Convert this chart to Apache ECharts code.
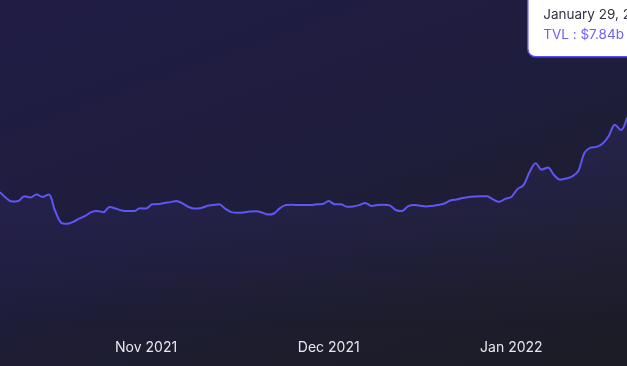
<!DOCTYPE html>
<html>
<head>
<meta charset="utf-8">
<script src="https://cdn.jsdelivr.net/npm/echarts@6/dist/echarts.min.js"></script>
<style>
html,body{margin:0;padding:0;overflow:hidden;background:#1e1c36;}
#chart{width:627px;height:366px;overflow:hidden;position:relative;
background:linear-gradient(160deg,#201c45 0%,#1f1d3d 45%,#1d1d2b 80%,#1c1c26 100%);}
</style>
</head>
<body>
<div id="chart"></div>
<script>
// Daily TVL (billions USD), 2021-10-18 .. 2022-01-29
var startDate = '2021-10-18';
var tvl = [
5.09,4.87,4.74,4.76,4.94,4.89,5.00,4.91,5.00,4.43,
3.97,3.92,3.99,4.11,4.21,4.35,4.39,4.35,4.54,4.48,
4.41,4.39,4.39,4.49,4.48,4.64,4.65,4.69,4.72,4.76,
4.67,4.54,4.48,4.50,4.58,4.61,4.64,4.48,4.35,4.33,
4.34,4.37,4.38,4.34,4.26,4.30,4.50,4.61,4.62,4.61,
4.61,4.61,4.64,4.65,4.76,4.64,4.64,4.55,4.56,4.61,
4.69,4.58,4.61,4.62,4.60,4.43,4.39,4.56,4.61,4.59,
4.56,4.58,4.61,4.67,4.78,4.82,4.87,4.91,4.93,4.94,
4.94,4.82,4.73,4.84,4.91,5.20,5.35,5.83,6.15,5.92,
6.00,5.72,5.55,5.59,5.67,5.87,6.53,6.73,6.76,6.88,
7.16,7.58,7.38,7.84
];
var tickIndex = [24, 54, 84];
var tickLabels = ['Nov 2021', 'Dec 2021', 'Jan 2022'];
var monthNames = ['January','February','March','April','May','June','July','August','September','October','November','December'];

var dates = [];
var d0 = new Date(startDate + 'T00:00:00Z');
for (var i = 0; i < tvl.length; i++) {
  var d = new Date(d0.getTime() + i * 86400000);
  dates.push(d.toISOString().slice(0, 10));
}
var lastIdx = tvl.length - 1;
var lastD = new Date(dates[lastIdx] + 'T00:00:00Z');
var tipDate = monthNames[lastD.getUTCMonth()] + ' ' + lastD.getUTCDate() + ', ' + lastD.getUTCFullYear();
var tipValue = 'TVL : $' + tvl[lastIdx].toFixed(2) + 'b';

var chart = echarts.init(document.getElementById('chart'), null, {renderer: 'canvas'});
chart.setOption({
  animation: false,
  backgroundColor: 'transparent',
  grid: {left: -3, right: 0, top: 0, bottom: 36, containLabel: false},
  xAxis: {
    type: 'category',
    data: dates,
    boundaryGap: false,
    axisLine: {show: false},
    axisTick: {show: false},
    splitLine: {show: false},
    axisLabel: {
      color: '#e8e8ee',
      fontFamily: 'Inter',
      fontSize: 14,
      margin: 11,
      interval: function (idx) { return tickIndex.indexOf(idx) >= 0; },
      formatter: function (val, idx) {
        var k = tickIndex.indexOf(idx);
        return k >= 0 ? tickLabels[k] : '';
      }
    }
  },
  yAxis: {
    type: 'value',
    min: 0,
    max: 12.18,
    show: false,
    splitLine: {show: false}
  },
  series: [{
    type: 'line',
    data: tvl,
    smooth: 0.35,
    showSymbol: false,
    lineStyle: {color: '#5f56f3', width: 2},
    areaStyle: {
      color: new echarts.graphic.LinearGradient(0, 0, 0, 1, [
        {offset: 0, color: 'rgba(100,88,240,0.17)'},
        {offset: 0.6, color: 'rgba(100,88,240,0.07)'},
        {offset: 1, color: 'rgba(100,88,240,0)'}
      ])
    }
  }],
  graphic: [{
    type: 'group',
    left: 527,
    top: -12,
    children: [{
      type: 'rect',
      shape: {x: 0, y: 0, width: 130, height: 68, r: 8},
      style: {fill: '#ffffff', stroke: '#5b50ee', lineWidth: 1.5}
    }, {
      type: 'text',
      x: 15.5, y: 26,
      style: {text: tipDate, fill: '#333340', font: '13.5px Inter', textVerticalAlign: 'middle'}
    }, {
      type: 'text',
      x: 15.5, y: 46,
      style: {text: tipValue, fill: '#6d60f5', font: '13.5px Inter', textVerticalAlign: 'middle'}
    }]
  }]
});
</script>
</body>
</html>
